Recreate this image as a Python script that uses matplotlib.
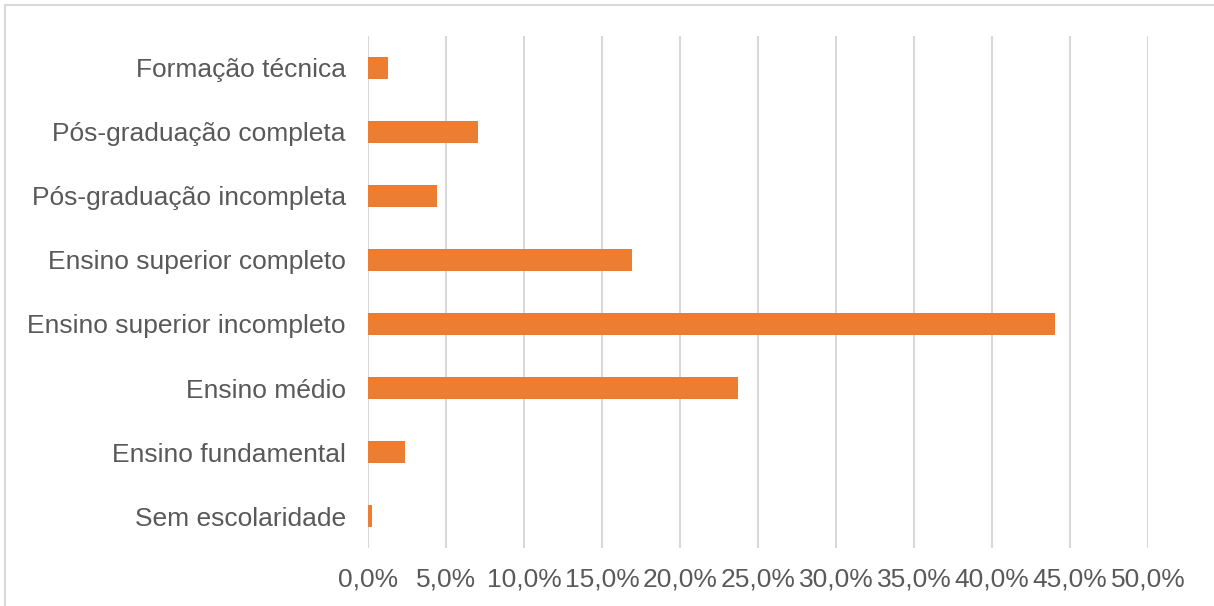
import matplotlib
matplotlib.use("Agg")
import matplotlib.pyplot as plt
from matplotlib.patches import Rectangle
from matplotlib.ticker import FuncFormatter, MultipleLocator

categories = ["Sem escolaridade", "Ensino fundamental", "Ensino médio",
              "Ensino superior incompleto", "Ensino superior completo",
              "Pós-graduação incompleta", "Pós-graduação completa",
              "Formação técnica"]
values = [0.25, 2.35, 23.7, 44.05, 16.95, 4.45, 7.05, 1.3]

W, H = 1214, 606
fig = plt.figure(figsize=(W / 100, H / 100), dpi=100)
plt.rcParams['font.family'] = ['Liberation Sans', 'DejaVu Sans']

ax = fig.add_axes([368 / W, 58 / H, 780 / W, 512 / H])
ax.barh(range(len(categories)), values, height=0.345, color="#ED7D31", zorder=3)
ax.set_xlim(0, 50)
ax.set_ylim(-0.5, len(categories) - 0.5)
ax.set_yticks(range(len(categories)))
ax.set_yticklabels(categories)
ax.xaxis.set_major_locator(MultipleLocator(5))
ax.xaxis.set_major_formatter(FuncFormatter(lambda v, p: f"{v:.1f}%".replace(".", ",")))
ax.grid(axis="x", color="#d9d9d9", linewidth=1.5, zorder=0)
for s in ax.spines.values():
    s.set_visible(False)
ax.tick_params(axis="both", length=0, labelsize=19, colors="#595959")
ax.tick_params(axis="y", pad=16)
ax.tick_params(axis="x", pad=14)

fig.patches.append(Rectangle((5 / W, -0.1), 1.2, 1.1 - 5 / H + 0.0,
                             transform=fig.transFigure, fill=False,
                             edgecolor="#d9d9d9", linewidth=1.5))
fig.savefig("out.png", dpi=100)
